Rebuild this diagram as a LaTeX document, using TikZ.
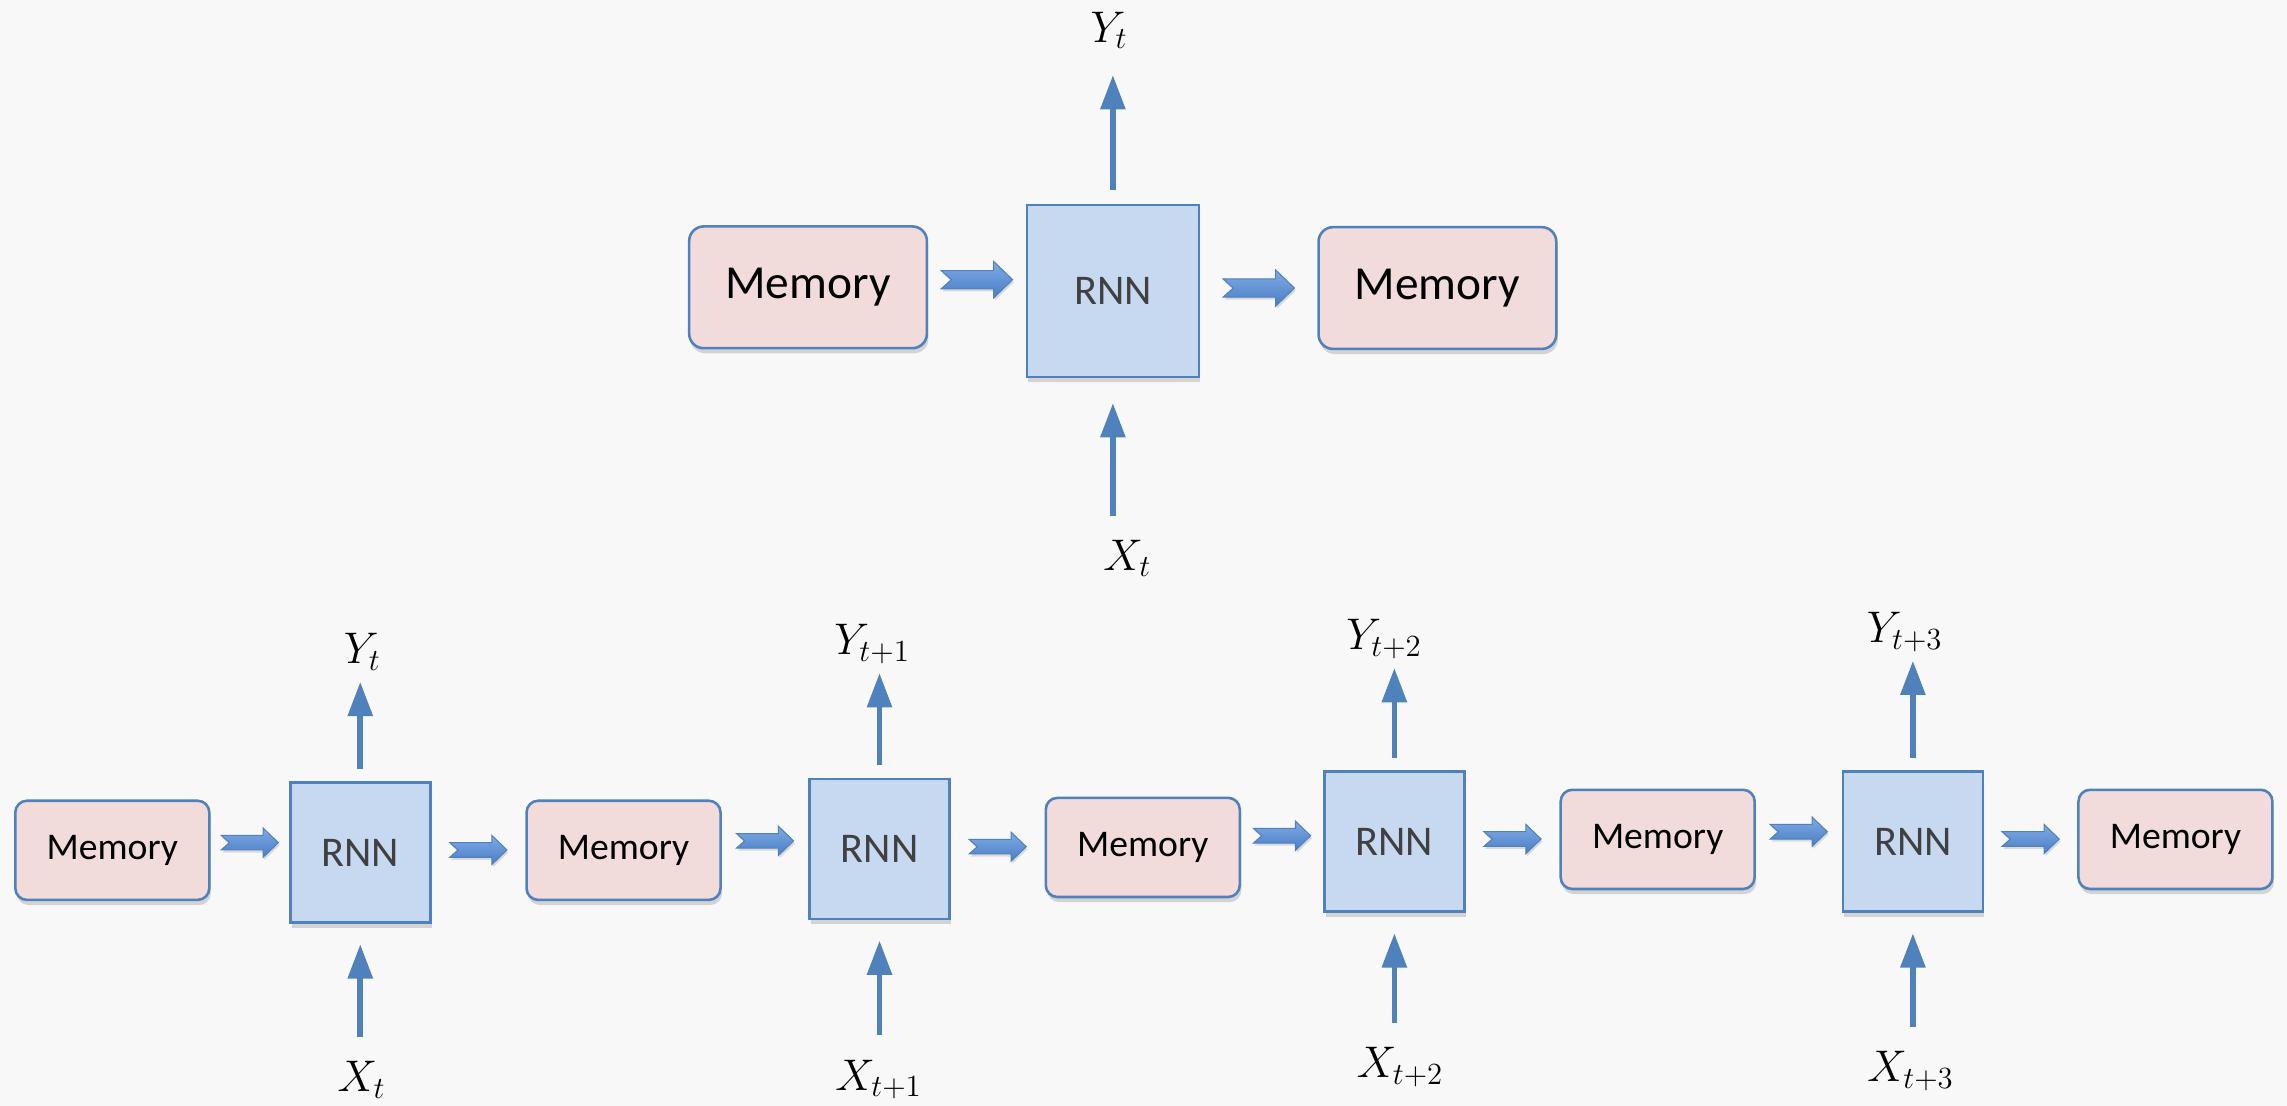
\documentclass[tikz,border=0pt]{standalone}
\usepackage[no-math]{fontspec}
\setmainfont{Carlito}
\usetikzlibrary{arrows.meta,calc,shadows}
\definecolor{bgcol}{RGB}{248,248,248}
\definecolor{edge}{RGB}{79,129,189}
\definecolor{memfill}{RGB}{242,220,219}
\definecolor{rnnfill}{RGB}{198,217,241}
\definecolor{rnntext}{RGB}{64,64,64}
\definecolor{arrtop}{RGB}{128,170,230}
\definecolor{arrbot}{RGB}{74,126,196}

\tikzset{
  fatarrow/.pic={
    \path[scale=#1, top color=arrtop, bottom color=arrbot, draw=edge, line width=0.4pt,
      drop shadow={shadow xshift=0.5pt, shadow yshift=-1pt, opacity=0.25}]
      (-0.49,-0.125) -- (0.23,-0.125) -- (0.23,-0.25) -- (0.49,0)
      -- (0.23,0.25) -- (0.23,0.125) -- (-0.49,0.125) -- (-0.35,0) -- cycle;
  }
}

\begin{document}
\begin{tikzpicture}[
  mem/.style={rectangle, rounded corners=0.16cm, draw=edge, line width=1pt, fill=memfill,
    minimum width=2.66cm, minimum height=1.36cm, font=\fontsize{14.7}{17}\selectfont,
    drop shadow={shadow xshift=0.6pt, shadow yshift=-2pt, opacity=0.3}},
  bigmem/.style={mem, rounded corners=0.2cm, minimum width=3.26cm, minimum height=1.67cm,
    font=\fontsize{18.5}{22}\selectfont},
  rnn/.style={rectangle, draw=edge, line width=1pt, fill=rnnfill, text=rnntext,
    minimum width=1.92cm, minimum height=1.92cm, font=\fontsize{16.5}{20}\selectfont,
    drop shadow={shadow xshift=0.6pt, shadow yshift=-2pt, opacity=0.3}},
  bigrnn/.style={rnn, minimum width=2.36cm, minimum height=2.36cm},
  lbl/.style={inner sep=0pt, anchor=base, font=\fontsize{17.5}{21}\selectfont},
  vec/.style={draw=edge, line width=2.2pt, -{Triangle[length=0.47cm, width=0.33cm]}},
  yout/.style={vec, shorten <=0.17cm, shorten >=0.25cm},
  xin/.style={vec, shorten <=0.33cm, shorten >=0.28cm}
]
  \fill[bgcol] (0,0) rectangle (31.36,15.16);

  % single cell
  \node[bigmem] (memA) at (11.08,11.22) {Memory};
  \node[bigrnn] (rnnA) at (15.26,11.17) {RNN};
  \node[bigmem] (memB) at (19.71,11.21) {Memory};
  \node[lbl] (y0) at (15.21,14.58) {$Y_t$};
  \node[lbl] (x0) at (15.46,7.34) {$X_t$};

  \draw[yout, shorten <=0.19cm, shorten >=0.45cm] (rnnA.north) -- (rnnA.north |- y0.base);
  \draw[xin, shorten <=0.32cm, shorten >=0.34cm] (x0.north -| rnnA.south) -- (rnnA.south);
  \pic at ($(memA.east)!0.5!(rnnA.west)+(0,0.13)$) {fatarrow=1};
  \pic at ($(rnnA.east)!0.5!(memB.west)+(0,0.02)$) {fatarrow=1};

  % unrolled
  \node[mem] (mem1) at (1.54,3.50) {Memory};
  \node[rnn] (rnn1) at (4.94,3.47) {RNN};
  \node[mem] (mem2) at (8.55,3.50) {Memory};
  \node[rnn] (rnn2) at (12.06,3.52) {RNN};
  \node[mem] (mem3) at (15.67,3.54) {Memory};
  \node[rnn] (rnn3) at (19.12,3.62) {RNN};
  \node[mem] (mem4) at (22.73,3.65) {Memory};
  \node[rnn] (rnn4) at (26.23,3.62) {RNN};
  \node[mem] (mem5) at (29.83,3.65) {Memory};

  \node[lbl] (y1) at (4.97,6.06) {$Y_t$};
  \node[lbl] (y2) at (11.96,6.18) {$Y_{t+1}$};
  \node[lbl] (y3) at (18.98,6.25) {$Y_{t+2}$};
  \node[lbl] (y4) at (26.12,6.35) {$Y_{t+3}$};
  \node[lbl] (x1) at (4.96,0.19) {$X_t$};
  \node[lbl] (x2) at (12.05,0.21) {$X_{t+1}$};
  \node[lbl] (x3) at (19.20,0.38) {$X_{t+2}$};
  \node[lbl] (x4) at (26.20,0.33) {$X_{t+3}$};

  \draw[yout] (rnn1.north) -- (rnn1.north |- y1.base);
  \draw[yout] (rnn2.north) -- (rnn2.north |- y2.base);
  \draw[yout] (rnn3.north) -- (rnn3.north |- y3.base);
  \draw[yout] (rnn4.north) -- (rnn4.north |- y4.base);
  \draw[xin] (x1.north -| rnn1.south) -- (rnn1.south);
  \draw[xin] (x2.north -| rnn2.south) -- (rnn2.south);
  \draw[xin] (x3.north -| rnn3.south) -- (rnn3.south);
  \draw[xin] (x4.north -| rnn4.south) -- (rnn4.south);

  \pic at ($(mem1.east)!0.5!(rnn1.west)+(0,0.12)$) {fatarrow=0.8};
  \pic at ($(rnn1.east)!0.5!(mem2.west)+(0,0.02)$) {fatarrow=0.8};
  \pic at ($(mem2.east)!0.5!(rnn2.west)+(0,0.12)$) {fatarrow=0.8};
  \pic at ($(rnn2.east)!0.5!(mem3.west)+(0,0.02)$) {fatarrow=0.8};
  \pic at ($(mem3.east)!0.5!(rnn3.west)+(0,0.12)$) {fatarrow=0.8};
  \pic at ($(rnn3.east)!0.5!(mem4.west)+(0,0.02)$) {fatarrow=0.8};
  \pic at ($(mem4.east)!0.5!(rnn4.west)+(0,0.12)$) {fatarrow=0.8};
  \pic at ($(rnn4.east)!0.5!(mem5.west)+(0,0.02)$) {fatarrow=0.8};
\end{tikzpicture}
\end{document}
